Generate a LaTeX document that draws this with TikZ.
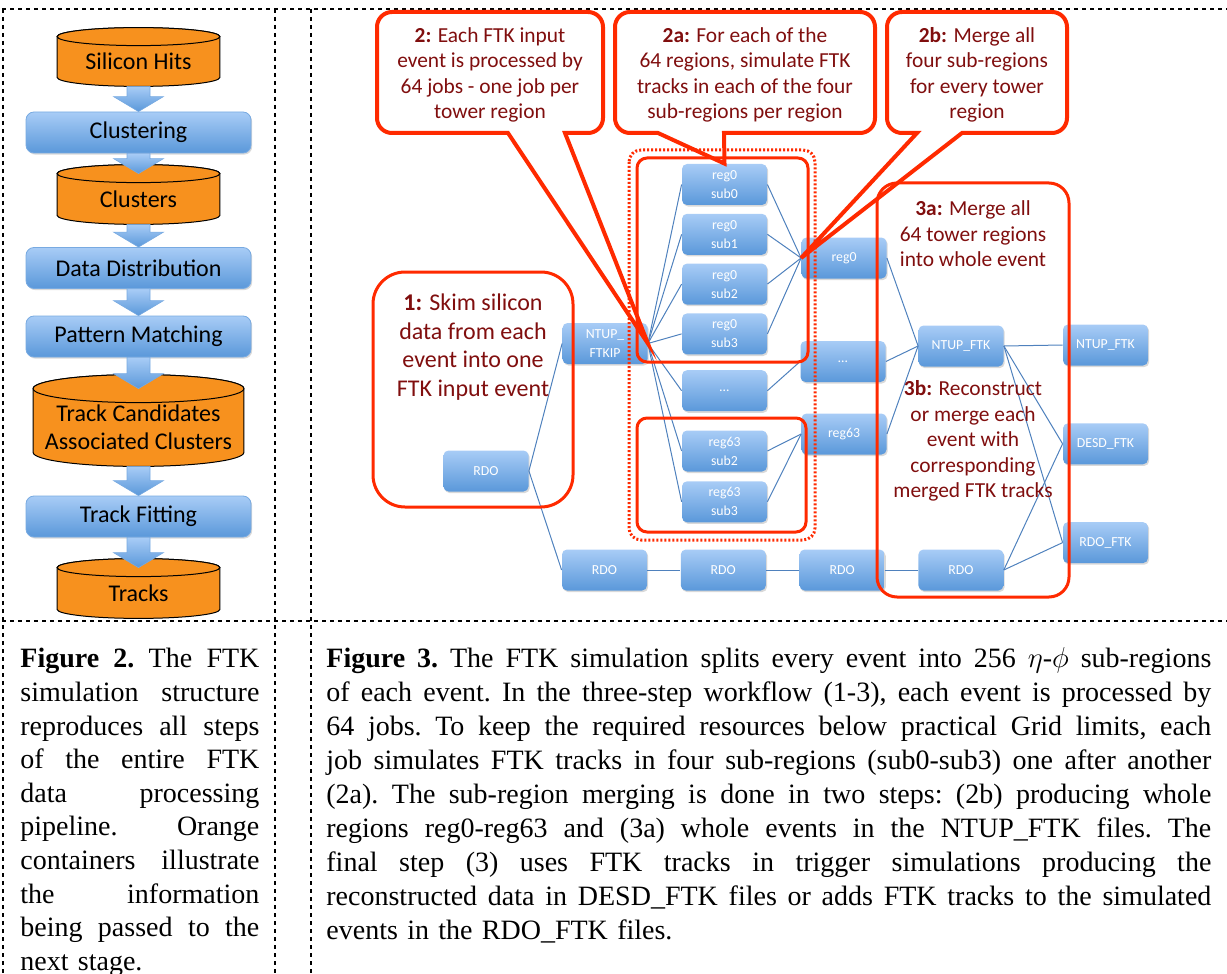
\documentclass[tikz,border=0pt]{standalone}
\usepackage{fontspec}
\setmainfont{Liberation Serif}
\newfontfamily\calibri{Carlito}
\usetikzlibrary{positioning}
\usetikzlibrary{calc}
\usetikzlibrary{backgrounds}
\usetikzlibrary{shadows}
\definecolor{drumorange}{RGB}{247,145,30}
\definecolor{jobtop}{RGB}{168,204,246}
\definecolor{jobbottom}{RGB}{90,152,218}
\definecolor{jobedge}{RGB}{120,170,225}
\definecolor{linkblue}{RGB}{79,129,189}
\definecolor{notered}{RGB}{255,42,0}
\definecolor{notetext}{RGB}{128,14,14}
\tikzset{
  stage/.style={draw=jobedge, line width=0.4pt, rounded corners=4pt, top color=jobtop, bottom color=jobbottom,
    minimum width=112.5pt, minimum height=20.5pt, font=\calibri\fontsize{12}{14}\selectfont,
    drop shadow={shadow xshift=0.6pt, shadow yshift=-0.8pt, opacity=0.3}},
  drum/.style={inner sep=0pt, align=center, font=\calibri\fontsize{12}{14}\selectfont},
  drumfill/.style={draw=black, line width=0.5pt, fill=drumorange},
  stagearrowfill/.style={top color=jobtop, bottom color=jobbottom, draw=jobedge, line width=0.3pt},
  job/.style={rounded corners=2.5pt, top color=jobtop, bottom color=jobbottom, minimum width=42.5pt,
    minimum height=20.5pt, inner sep=1pt, text=white, align=center, font=\calibri\fontsize{6.9}{9.5}\selectfont,
    drop shadow={shadow xshift=0.6pt, shadow yshift=-0.8pt, opacity=0.3}},
  link/.style={draw=linkblue, line width=0.5pt},
  notebox/.style={draw=notered, line width=2pt, line join=miter},
  groupbox/.style={draw=notered, line width=1.5pt},
  notetxt/.style={text=notetext, align=center, font=\calibri\fontsize{10.7}{12.75}\selectfont},
  figcaption/.style={inner sep=0pt, font=\fontsize{14}{17}\selectfont\frenchspacing},
  tableline/.style={line width=1pt, dash pattern=on 2pt off 2pt}
}
% orange data container behind a named node
\newcommand{\drumbody}[2]{%
  \path[drumfill] let \p1=(#1.north west), \p2=(#1.south east), \n1={(\x2-\x1)/2} in
    (\x1,\y1) -- (\x1,\y2+#2) arc[start angle=180, end angle=360, x radius={\n1*1pt}, y radius=#2]
    -- (\x2,\y1) arc[start angle=0, end angle=180, x radius={\n1*1pt}, y radius=#2] -- cycle;
  \path[drumfill] let \p1=(#1.north west), \p2=(#1.north east), \n1={(\x2-\x1)/2} in
    (#1.north) ellipse[x radius={\n1*1pt}, y radius=#2];}
% thick blue arrow between two stages
\newcommand{\stagearrow}[2]{%
  \path[stagearrowfill] let \p1=(#1.south), \p2=(#2.north) in
    (\x1-5.75pt,\y1) -- (\x1+5.75pt,\y1) -- (\x1+5.75pt,\y2+7.5pt) -- (\x1+12.5pt,\y2+7.5pt)
    -- (\x1,\y2) -- (\x1-12.5pt,\y2+7.5pt) -- (\x1-5.75pt,\y2+7.5pt) -- cycle;}
% one justified caption line
\newlength{\capwidth}
\newcommand{\fullline}[1]{\hbox to \capwidth{\spaceskip=0.25em plus 1fil\relax #1}\par}
\begin{document}
\begin{tikzpicture}[x=0.5pt,y=-0.5pt]
\useasboundingbox (0,0) rectangle (1227,974);

% table frame
\draw[tableline] (2,9) -- (1227,9);
\draw[tableline] (2,621) -- (1227,621);
\foreach \xcol in {3,275,311} \draw[tableline] (\xcol,9) -- (\xcol,974);

% left column: processing chain
\node[drum, minimum width=81pt, minimum height=24.5pt] (hits) at (138.5,61.5) {Silicon Hits};
\node[stage] (clustering) at (138.5,132.5) {Clustering};
\node[drum, minimum width=81pt, minimum height=25pt] (clusters) at (138.5,199) {Clusters};
\node[stage] (distrib) at (138.5,268) {Data Distribution};
\node[stage] (matching) at (138.5,336.5) {Pattern Matching};
\node[drum, minimum width=105pt, minimum height=38.5pt] (candidates) at (138.5,427.5) {Track Candidates\\Associated Clusters};
\node[stage] (fitting) at (138.5,516.5) {Track Fitting};
\node[drum, minimum width=81pt, minimum height=25pt] (tracks) at (138.5,593) {Tracks};
\begin{scope}[on background layer]
\drumbody{hits}{4.5pt}
\drumbody{clusters}{4.5pt}
\drumbody{candidates}{7pt}
\drumbody{tracks}{4.5pt}
\end{scope}
\stagearrow{hits}{clustering}
\stagearrow{clustering}{clusters}
\stagearrow{clusters}{distrib}
\stagearrow{distrib}{matching}
\stagearrow{matching}{candidates}
\stagearrow{candidates}{fitting}
\stagearrow{fitting}{tracks}

% right column: job workflow
\node[job] (rdoin) at (486,471) {RDO};
\node[job] (ftkip) at (605,343.5) {NTUP\_\\FTKIP};
\node[job] (r0s0) at (724.5,184.5) {reg0\\sub0};
\node[job, below=4pt of r0s0] (r0s1) {reg0\\sub1};
\node[job, below=4pt of r0s1] (r0s2) {reg0\\sub2};
\node[job, below=4pt of r0s2] (r0s3) {reg0\\sub3};
\node[job, below=7.5pt of r0s3] (subdots) {\dots};
\node[job] (r63s2) at (724.5,451) {reg63\\sub2};
\node[job, below=4.5pt of r63s2] (r63s3) {reg63\\sub3};
\node[job] (reg0) at (844,258) {reg0};
\node[job] (regdots) at (843,361.5) {\dots};
\node[job] (reg63) at (844,434) {reg63};
\node[job] (ntupmerge) at (961,346) {NTUP\_FTK};
\node[job] (ntupout) at (1105.5,345) {NTUP\_FTK};
\node[job, below=28.5pt of ntupout] (desd) {DESD\_FTK};
\node[job, below=28.5pt of desd] (rdoftk) {RDO\_FTK};
\node[job] (rdoa) at (604.5,570) {RDO};
\node[job, right=16.5pt of rdoa] (rdob) {RDO};
\node[job, right=16.5pt of rdob] (rdoc) {RDO};
\node[job, right=16.5pt of rdoc] (rdod) {RDO};

\draw[link] (rdoin.east) -- (ftkip.west);
\draw[link] (rdoin.east) -- (rdoa.west);
\foreach \sub in {r0s0,r0s1,r0s2,r0s3,subdots,r63s2,r63s3} \draw[link] (ftkip.east) -- (\sub.west);
\foreach \sub in {r0s0,r0s1,r0s2,r0s3} \draw[link] (\sub.east) -- (reg0.west);
\draw[link] (subdots.east) -- (regdots.west);
\foreach \sub in {r63s2,r63s3} \draw[link] (\sub.east) -- (reg63.west);
\foreach \reg in {reg0,regdots,reg63} \draw[link] (\reg.east) -- (ntupmerge.west);
\foreach \out in {ntupout,desd,rdoftk} \draw[link] (ntupmerge.east) -- (\out.west);
\draw[link] (rdoa) -- (rdob);
\draw[link] (rdob) -- (rdoc);
\draw[link] (rdoc) -- (rdod);
\foreach \out in {desd,rdoftk} \draw[link] (rdod.east) -- (\out.west);

% red groups and callouts
\draw[groupbox, rounded corners=5pt] (637,158) rectangle (808,362);
\draw[groupbox, rounded corners=5pt] (637,418) rectangle (806,532);
\draw[groupbox, rounded corners=6pt, dash pattern=on 1pt off 1pt] (629,150) rectangle (815,540);
\draw[groupbox, rounded corners=10pt] (877,183) rectangle (1069,597);
\draw[groupbox, rounded corners=16pt] (373,272) rectangle (573,507);
\draw[notebox] (490,12) [rounded corners=7.5pt] -- (377,12) -- (377,133) [sharp corners] -- (508,133)
  -- (ftkip.east) -- (565,133) [rounded corners=7.5pt] -- (603,133) -- (603,12) -- cycle;
\draw[notebox] (745,12) [rounded corners=7.5pt] -- (615,12) -- (615,133) [sharp corners] -- (658,133)
  -- (r0s0.north) -- (724,133) [rounded corners=7.5pt] -- (875,133) -- (875,12) -- cycle;
\draw[notebox] (977,12) [rounded corners=7.5pt] -- (887,12) -- (887,133) [sharp corners] -- (917,133)
  -- (reg0.west) -- (962,133) [rounded corners=7.5pt] -- (1067,133) -- (1067,12) -- cycle;

\node[notetxt] (note2) at (490,75) {\textbf{2:} Each FTK input\\event is processed by\\64 jobs - one job per\\tower region};
\node[notetxt] (note2a) at (745,75) {\textbf{2a:} For each of the\\64 regions, simulate FTK\\tracks in each of the four\\sub-regions per region};
\node[notetxt] (note2b) at (977,75) {\textbf{2b:} Merge all\\four sub-regions\\for every tower\\region};
\node[notetxt, font=\calibri\fontsize{12}{14.25}\selectfont] (note1) at (473,347) {\textbf{1:} Skim silicon\\data from each\\event into one\\FTK input event};
\node[notetxt] (note3a) at (973,234) {\textbf{3a:} Merge all\\64 tower regions\\into whole event};
\node[notetxt] (note3b) at (973,441) {\textbf{3b:} Reconstruct\\or merge each\\event with\\corresponding\\merged FTK tracks};

% captions
\node[figcaption, font=\fontsize{14}{16.8}\selectfont\frenchspacing, text width=119.5pt, anchor=north west] (capleft) at (20,648) {%
\setlength{\capwidth}{119.5pt}%
\fullline{\textbf{Figure 2.} The FTK}
\fullline{simulation structure}
\fullline{reproduces all steps}
\fullline{of the entire FTK}
\fullline{data processing}
\fullline{pipeline. Orange}
\fullline{containers illustrate}
\fullline{the information}
\fullline{being passed to the}
\noindent next stage.};
\node[figcaption, text width=442.5pt, anchor=north west] (capright) at (326,647) {%
\setlength{\capwidth}{442.5pt}%
\fullline{\textbf{Figure 3.} The FTK simulation splits every event into 256 $\eta$-$\phi$ sub-regions}
\fullline{of each event. In the three-step workflow (1-3), each event is processed by}
\fullline{64 jobs. To keep the required resources below practical Grid limits, each}
\fullline{job simulates FTK tracks in four sub-regions (sub0-sub3) one after another}
\fullline{(2a). The sub-region merging is done in two steps: (2b) producing whole}
\fullline{regions reg0-reg63 and (3a) whole events in the NTUP\_FTK files. The}
\fullline{final step (3) uses FTK tracks in trigger simulations producing the}
\fullline{reconstructed data in DESD\_FTK files or adds FTK tracks to the simulated}
\noindent events in the RDO\_FTK files.};
\end{tikzpicture}
\end{document}
